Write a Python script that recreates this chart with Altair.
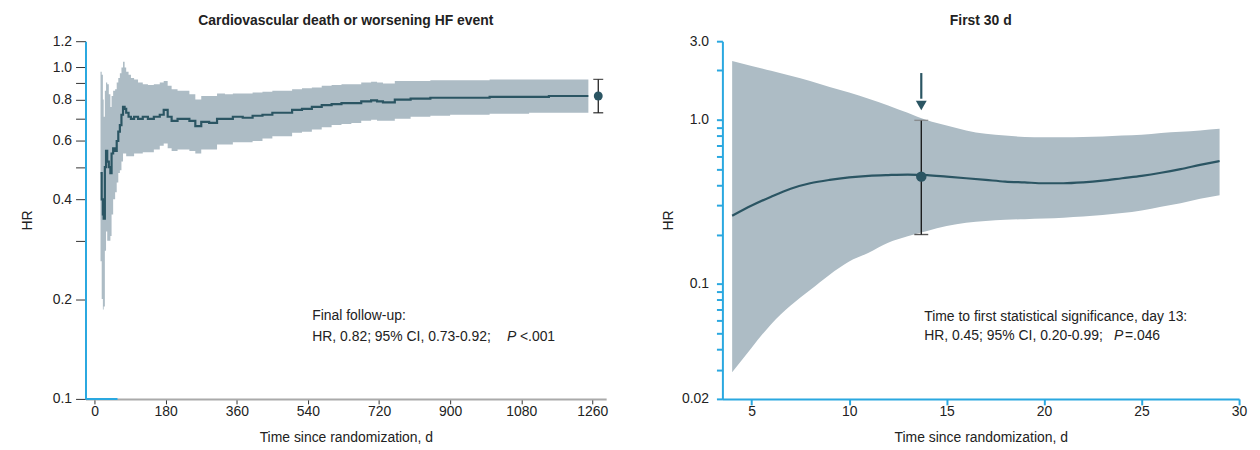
import altair as alt
import pandas as pd

FONT = "Liberation Sans"
BAND = "#adbcc5"
LINE = "#2b5563"
BLUE = "#2aa8e0"
TXT = "#222222"

# ---------------- Left panel: full follow-up ----------------
left_day = [15, 18, 21, 23, 26, 29, 32, 36, 40, 43, 47, 52, 56, 60, 64, 68, 72, 76, 80, 86,
            92, 100, 110, 122, 135, 150, 165, 175, 185, 195, 210, 225, 240, 255, 270, 290,
            310, 330, 350, 375, 400, 425, 450, 475, 500, 525, 550, 575, 600, 625, 650, 675,
            700, 715, 730, 760, 800, 850, 900, 950, 1000, 1050, 1100, 1150, 1200, 1250]
left_hr = [0.48, 0.40, 0.36, 0.35, 0.50, 0.56, 0.52, 0.50, 0.48, 0.55, 0.57, 0.56, 0.60, 0.64,
           0.67, 0.72, 0.76, 0.75, 0.73, 0.71, 0.70, 0.71, 0.70, 0.71, 0.70, 0.71, 0.72, 0.745,
           0.71, 0.69, 0.70, 0.70, 0.69, 0.665, 0.685, 0.68, 0.70, 0.70, 0.71, 0.705, 0.715,
           0.72, 0.73, 0.73, 0.745, 0.75, 0.76, 0.77, 0.775, 0.78, 0.78, 0.79, 0.795, 0.79,
           0.785, 0.80, 0.805, 0.81, 0.81, 0.81, 0.815, 0.815, 0.815, 0.82, 0.82, 0.82]
left_lo = [0.26, 0.20, 0.186, 0.19, 0.28, 0.32, 0.30, 0.30, 0.31, 0.36, 0.40, 0.42, 0.45, 0.48,
           0.49, 0.52, 0.55, 0.55, 0.54, 0.54, 0.54, 0.55, 0.55, 0.555, 0.555, 0.565, 0.58,
           0.59, 0.57, 0.56, 0.565, 0.565, 0.56, 0.55, 0.565, 0.565, 0.585, 0.585, 0.595,
           0.595, 0.60, 0.61, 0.62, 0.62, 0.635, 0.64, 0.65, 0.66, 0.67, 0.675, 0.68, 0.69,
           0.695, 0.69, 0.69, 0.70, 0.71, 0.715, 0.72, 0.72, 0.725, 0.725, 0.73, 0.73, 0.73, 0.73]
left_hi = [0.97, 0.95, 0.80, 0.71, 0.85, 0.90, 0.89, 0.83, 0.76, 0.82, 0.85, 0.86, 0.90, 0.93,
           0.96, 1.00, 1.04, 1.00, 0.97, 0.95, 0.93, 0.92, 0.90, 0.89, 0.885, 0.89, 0.90, 0.91,
           0.88, 0.86, 0.85, 0.85, 0.83, 0.80, 0.82, 0.82, 0.835, 0.83, 0.835, 0.835, 0.84,
           0.845, 0.85, 0.85, 0.86, 0.865, 0.87, 0.88, 0.885, 0.89, 0.89, 0.90, 0.905, 0.90,
           0.895, 0.91, 0.91, 0.915, 0.915, 0.915, 0.92, 0.92, 0.92, 0.92, 0.92, 0.92]
final_day = [1275]
final_hr = [0.82]
final_lo = [0.73]
final_hi = [0.92]
left_xticks = [0, 180, 360, 540, 720, 900, 1080, 1260]
left_yticks = [0.1, 0.2, 0.3, 0.4, 0.5, 0.6, 0.7, 0.8, 0.9, 1.0, 1.2]
left_ylabels = [0.1, 0.2, 0.4, 0.6, 0.8, 1.0, 1.2]
left_note = ["Final follow-up:", "HR, 0.82; 95% CI, 0.73-0.92;"]

# ---------------- Right panel: first 30 days ----------------
right_day = [4, 5, 6, 7, 8, 9, 10, 11, 12, 13, 14, 15, 16, 17, 18, 19, 20, 21, 22, 23, 24,
             25, 26, 27, 28, 29]
right_hr = [0.26, 0.30, 0.34, 0.38, 0.41, 0.43, 0.445, 0.455, 0.46, 0.463, 0.46, 0.45, 0.44,
            0.43, 0.42, 0.415, 0.41, 0.41, 0.415, 0.425, 0.44, 0.455, 0.475, 0.50, 0.53, 0.56]
right_lo = [0.029, 0.041, 0.057, 0.074, 0.092, 0.114, 0.137, 0.155, 0.178, 0.195, 0.21, 0.225,
            0.236, 0.242, 0.246, 0.248, 0.25, 0.253, 0.257, 0.263, 0.27, 0.28, 0.295, 0.31,
            0.33, 0.347]
right_hi = [2.27, 2.12, 1.98, 1.85, 1.72, 1.58, 1.46, 1.34, 1.22, 1.10, 0.99, 0.92, 0.86, 0.82,
            0.80, 0.785, 0.78, 0.78, 0.785, 0.79, 0.80, 0.81, 0.83, 0.845, 0.86, 0.88]
sig_day = [13.7]
sig_hr = [0.45]
sig_lo = [0.20]
sig_hi = [0.99]
arrow_top = [1.92]
arrow_tail = [1.34]
arrow_head = [1.22]
right_xticks = [5, 10, 15, 20, 25, 30]
right_yticks = [0.02, 0.03, 0.04, 0.05, 0.06, 0.07, 0.08, 0.09, 0.1, 0.2, 0.3, 0.4, 0.5, 0.6,
                0.7, 0.8, 0.9, 1.0, 2.0, 3.0]
right_note = ["Time to first statistical significance, day 13:", "HR, 0.45; 95% CI, 0.20-0.99;"]

# ---------------- tables ----------------
left_df = pd.DataFrame({"day": left_day, "hr": left_hr, "lo": left_lo, "hi": left_hi})
left_fin = pd.DataFrame({"day": final_day, "hr": final_hr, "lo": final_lo, "hi": final_hi})
right_df = pd.DataFrame({"day": right_day, "hr": right_hr, "lo": right_lo, "hi": right_hi})
right_sig = pd.DataFrame({"day": sig_day, "hr": sig_hr, "lo": sig_lo, "hi": sig_hi,
                          "atop": arrow_top, "atail": arrow_tail, "ahead": arrow_head})

W_L, W_R, H = 524, 520, 360
AX = dict(labelFont=FONT, titleFont=FONT, labelFontSize=14, titleFontSize=14,
          labelColor=TXT, titleColor=TXT, titleFontWeight="normal", grid=False)

# ---------------- left chart ----------------
xsL = alt.Scale(domain=[-23, 1295], nice=False, zero=False)
ysL = alt.Scale(type="log", domain=[0.1, 1.2], nice=False)
lab_expr_L = "indexof(" + str(left_ylabels) + ", datum.value) >= 0 ? format(datum.value, '.1f') : ''"
axXL = alt.Axis(values=left_xticks, title="Time since randomization, d", format="d",
                domainColor="#aaaaaa", domainWidth=2, tickColor="#333333", tickSize=5,
                labelPadding=1, titlePadding=12, labelFlush=False, **AX)
axYL = alt.Axis(values=left_yticks, labelExpr=lab_expr_L, title="HR",
                domainColor=BLUE, domainWidth=2, tickColor="#333333", tickSize=10,
                labelPadding=4, titlePadding=18, labelOverlap=False, **AX)


def xl(field="day"):
    return alt.X(f"{field}:Q", scale=xsL, axis=axXL)


def yl(field):
    return alt.Y(f"{field}:Q", scale=ysL, axis=axYL)


bandL = alt.Chart(left_df).mark_area(color=BAND, interpolate="step-after", opacity=1).encode(
    x=xl(), y=yl("lo"), y2="hi")
lineL = alt.Chart(left_df).mark_line(color=LINE, strokeWidth=2.2, interpolate="step-after").encode(
    x=xl(), y=yl("hr"))
refL = alt.Chart(left_fin).mark_rule(color="#555555", strokeDash=[1.5, 3], strokeWidth=1.2).encode(
    y=yl("one"))
segL = alt.Chart(pd.DataFrame({"a": [-23], "b": [58], "y": [0.1]})).mark_rule(
    color=BLUE, strokeWidth=2).encode(x=xl("a"), x2="b", y=yl("y"))
errL = alt.Chart(left_fin).mark_rule(color="#111111", strokeWidth=1.2).encode(
    x=xl(), y=yl("lo"), y2="hi")
capL1 = alt.Chart(left_fin).mark_tick(color="#111111", thickness=1.3, size=10, orient="horizontal").encode(
    x=xl(), y=yl("lo"))
capL2 = alt.Chart(left_fin).mark_tick(color="#111111", thickness=1.3, size=10, orient="horizontal").encode(
    x=xl(), y=yl("hi"))
ptL = alt.Chart(left_fin).mark_point(filled=True, color=LINE, size=80, opacity=1).encode(
    x=xl(), y=yl("hr"))

noteL_df = pd.DataFrame({"day": [551, 551], "hr": [0.1774, 0.1534], "t": left_note})
noteL = alt.Chart(noteL_df).mark_text(align="left", baseline="middle", fontSize=14, font=FONT,
                                      color=TXT).encode(
    x=xl(), y=yl("hr"), text="t:N")
pL_df = pd.DataFrame({"day": [551], "hr": [0.1534], "p": ["P"], "r": ["<.001"]})
pL = alt.Chart(pL_df).mark_text(align="left", baseline="middle", fontSize=14, font=FONT, color=TXT,
                                fontStyle="italic", dx=196).encode(
    x=xl(), y=yl("hr"), text="p:N")
rL = alt.Chart(pL_df).mark_text(align="left", baseline="middle", fontSize=14, font=FONT, color=TXT,
                                dx=209).encode(
    x=xl(), y=yl("hr"), text="r:N")

left = alt.layer(bandL, lineL, refL, segL, errL, capL1, capL2, ptL, noteL, pL, rL).transform_calculate(
    one="1").properties(
    width=W_L, height=H,
    title=alt.TitleParams("Cardiovascular death or worsening HF event", fontSize=14,
                          fontWeight="bold", font=FONT, color=TXT, frame="group",
                          anchor="middle", offset=6))

# ---------------- right chart ----------------
xsR = alt.Scale(domain=[3.5, 30], nice=False, zero=False)
ysR = alt.Scale(type="log", domain=[0.02, 3.0], nice=False)
lab_expr_R = ("datum.value == 0.02 ? '0.02' : (datum.value == 0.1 ? '0.1' : "
              "(datum.value == 1 ? '1.0' : (datum.value == 3 ? '3.0' : '')))")
axXR = alt.Axis(values=right_xticks, title="Time since randomization, d", format="d",
                domainColor=BLUE, domainWidth=2, tickColor=BLUE, tickWidth=2, tickSize=6,
                labelPadding=0, titlePadding=12, labelFlush=False, **AX)
axYR = alt.Axis(values=right_yticks, labelExpr=lab_expr_R, title="HR",
                domainColor=BLUE, domainWidth=2, tickColor=BLUE, tickWidth=2, tickSize=6,
                labelPadding=8, titlePadding=6, labelOverlap=False, **AX)


def xr(field="day"):
    return alt.X(f"{field}:Q", scale=xsR, axis=axXR)


def yr(field):
    return alt.Y(f"{field}:Q", scale=ysR, axis=axYR)


bandR = alt.Chart(right_df).mark_area(color=BAND, interpolate="monotone", opacity=1).encode(
    x=xr(), y=yr("lo"), y2="hi")
lineR = alt.Chart(right_df).mark_line(color=LINE, strokeWidth=2.2, interpolate="monotone").encode(
    x=xr(), y=yr("hr"))
refR = alt.Chart(right_sig).mark_rule(color="#555555", strokeDash=[1.5, 3], strokeWidth=1.2).encode(
    y=yr("one"))
errR = alt.Chart(right_sig).mark_rule(color="#111111", strokeWidth=1.3).encode(
    x=xr(), y=yr("lo"), y2="hi")
capR1 = alt.Chart(right_sig).mark_tick(color="#111111", thickness=1.4, size=14, orient="horizontal").encode(
    x=xr(), y=yr("lo"))
capR2 = alt.Chart(right_sig).mark_tick(color="#777777", thickness=1.4, size=14, orient="horizontal").encode(
    x=xr(), y=yr("hi"))
ptR = alt.Chart(right_sig).mark_point(filled=True, color=LINE, size=110, opacity=1).encode(
    x=xr(), y=yr("hr"))
arrR = alt.Chart(right_sig).mark_rule(color=LINE, strokeWidth=2.2).encode(
    x=xr(), y=yr("atop"), y2="atail")
headR = alt.Chart(right_sig).mark_point(filled=True, shape="triangle-down", color=LINE, size=120,
                                        opacity=1).encode(
    x=xr(), y=yr("ahead"))

noteR_df = pd.DataFrame({"day": [13.85, 13.85], "hr": [0.0626, 0.048], "t": right_note})
noteR = alt.Chart(noteR_df).mark_text(align="left", baseline="middle", fontSize=14, font=FONT,
                                      color=TXT).encode(
    x=xr(), y=yr("hr"), text="t:N")
pR_df = pd.DataFrame({"day": [13.85], "hr": [0.048], "p": ["P"], "r": ["=.046"]})
pR = alt.Chart(pR_df).mark_text(align="left", baseline="middle", fontSize=14, font=FONT, color=TXT,
                                fontStyle="italic", dx=191).encode(
    x=xr(), y=yr("hr"), text="p:N")
rR = alt.Chart(pR_df).mark_text(align="left", baseline="middle", fontSize=14, font=FONT, color=TXT,
                                dx=202).encode(
    x=xr(), y=yr("hr"), text="r:N")

right = alt.layer(bandR, lineR, refR, errR, capR1, capR2, ptR, arrR, headR, noteR, pR, rR).transform_calculate(
    one="1").properties(
    width=W_R, height=H,
    title=alt.TitleParams("First 30 d", fontSize=14, fontWeight="bold", font=FONT, color=TXT,
                          frame="group", anchor="middle", offset=6))

chart = alt.hconcat(left, right, spacing=53).properties(
    padding={"left": 12, "top": 5, "right": 5, "bottom": 0},
    background="white"
).configure_view(strokeWidth=0)

chart.save("out.html", embed_options={"renderer": "svg", "actions": False})
